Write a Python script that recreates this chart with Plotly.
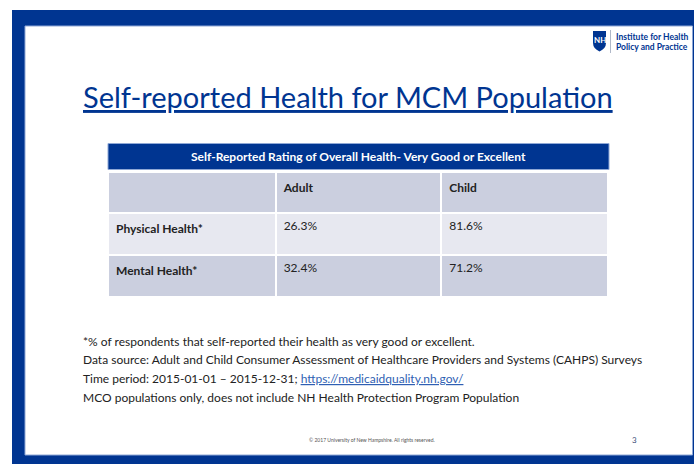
import plotly.graph_objects as go

W, H = 694, 464

# ---- content / data ----
slide_title = "Self-reported Health for MCM Population"
table_title = "Self-Reported Rating of Overall Health- Very Good or Excellent"
col_headers = ["", "Adult", "Child"]
row_labels = ["Physical Health*", "Mental Health*"]
adult_values = ["26.3%", "32.4%"]
child_values = ["81.6%", "71.2%"]
footnotes = [
    "*% of respondents that self-reported their health as very good or excellent.",
    "Data source: Adult and Child Consumer Assessment of Healthcare Providers and Systems (CAHPS) Surveys",
    "Time period: 2015-01-01 \u2013 2015-12-31; <span style='color:#2f5fb3;text-decoration:underline'>https://medicaidquality.nh.gov/</span>",
    "MCO populations only, does not include NH Health Protection Program Population",
]
footer_text = "\u00a9 2017 University of New Hampshire. All rights reserved."
page_number = "3"
logo_lines = ["Institute for Health", "Policy and Practice"]

BLUE = "#003591"
DARK = "#CBCFDF"
LIGHT = "#E7E8F0"
FONT = "Lato"

def px_x(a, b):
    return [a / W, b / W]

def px_y(top, bottom):
    return [1 - bottom / H, 1 - top / H]

fig = go.Figure()

# main table
fig.add_trace(go.Table(
    domain=dict(x=px_x(108, 609), y=px_y(172, 300)),
    columnwidth=[168, 166, 167],
    header=dict(
        values=["<b>" + c + "</b>" for c in col_headers],
        fill_color=DARK,
        line=dict(color="white", width=2),
        align="left",
        font=dict(family=FONT, size=12, color="#222222"),
        height=41,
    ),
    cells=dict(
        values=[["<b>" + r + "</b>" for r in row_labels], adult_values, child_values],
        fill_color=[[LIGHT, DARK]] * 3,
        line=dict(color="white", width=2),
        align="left",
        font=dict(family=FONT, size=12, color="#222222"),
        height=42,
    ),
))

shapes = []
# slide frame
shapes.append(dict(type="rect", xref="x", yref="y", x0=12, x1=694, y0=10, y1=464,
                   fillcolor=BLUE, line=dict(width=0), layer="below"))
shapes.append(dict(type="rect", xref="x", yref="y", x0=25, x1=692.5, y0=26, y1=455,
                   fillcolor="white", line=dict(color="#8fa8d6", width=1), layer="below"))
# table title bar
shapes.append(dict(type="rect", xref="x", yref="y", x0=108, x1=609, y0=143.5, y1=169.5,
                   fillcolor=BLUE, line=dict(color="#8fa8d6", width=1), layer="below"))
# logo shield
shapes.append(dict(type="path", xref="x", yref="y",
                   path="M593,31 L606,31 L606,43 Q606,48.5 599.5,51.5 Q593,48.5 593,43 Z",
                   fillcolor=BLUE, line=dict(width=0)))
shapes.append(dict(type="line", xref="x", yref="y", x0=610.5, x1=610.5, y0=30, y1=53,
                   line=dict(color="#b0b8c8", width=1)))

annotations = []
annotations.append(dict(x=81, y=96, xref="x", yref="y", xanchor="left", yanchor="middle",
                        text=slide_title, showarrow=False,
                        font=dict(family=FONT, size=29, color=BLUE, lineposition="under")))
annotations.append(dict(x=358.5, y=156.5, xref="x", yref="y", xanchor="center", yanchor="middle",
                        text="<b>" + table_title + "</b>", showarrow=False,
                        font=dict(family=FONT, size=12, color="white")))
annotations.append(dict(x=599.5, y=40, xref="x", yref="y", xanchor="center", yanchor="middle",
                        text="<b>NH</b>", showarrow=False,
                        font=dict(family=FONT, size=8, color="white")))
for i, line in enumerate(logo_lines):
    annotations.append(dict(x=614, y=37 + i * 10, xref="x", yref="y", xanchor="left",
                            yanchor="middle", text="<b>" + line + "</b>", showarrow=False,
                            font=dict(family=FONT, size=8.5, color=BLUE)))
foot_y = [341, 359.5, 378, 397]
for t, y in zip(footnotes, foot_y):
    annotations.append(dict(x=81, y=y, xref="x", yref="y", xanchor="left", yanchor="middle",
                            text=t, showarrow=False,
                            font=dict(family=FONT, size=12, color="#222222")))
annotations.append(dict(x=372, y=440, xref="x", yref="y", xanchor="center", yanchor="middle",
                        text=footer_text, showarrow=False,
                        font=dict(family=FONT, size=5, color="#555555")))
annotations.append(dict(x=634, y=440, xref="x", yref="y", xanchor="center", yanchor="middle",
                        text=page_number, showarrow=False,
                        font=dict(family=FONT, size=8, color="#3b4f7a")))

fig.update_layout(
    width=W, height=H,
    margin=dict(l=0, r=0, t=0, b=0),
    paper_bgcolor="white",
    plot_bgcolor="rgba(0,0,0,0)",
    xaxis=dict(range=[0, W], visible=False, fixedrange=True),
    yaxis=dict(range=[H, 0], visible=False, fixedrange=True),
    shapes=shapes,
    annotations=annotations,
    showlegend=False,
)

fig.write_html("out.html", config={"displayModeBar": False},
               post_script="document.body.style.margin='0';document.body.style.overflow='hidden';")
